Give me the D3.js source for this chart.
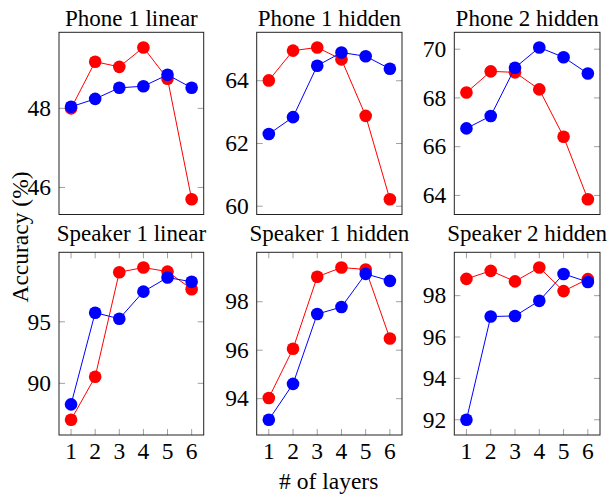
<!DOCTYPE html>
<html><head><meta charset="utf-8">
<script src="https://cdn.jsdelivr.net/npm/d3@7"></script>
<style>body{margin:0;background:#fff}svg{display:block}</style>
</head><body>
<script>
const layers = [1, 2, 3, 4, 5, 6];
const titles = ["Phone 1 linear", "Phone 1 hidden", "Phone 2 hidden", "Speaker 1 linear", "Speaker 1 hidden", "Speaker 2 hidden"];
const redSeries = [
  [48.0, 49.18, 49.05, 49.54, 48.75, 45.70],
  [64.01, 64.96, 65.06, 64.68, 62.88, 60.22],
  [68.22, 69.09, 69.05, 68.35, 66.41, 63.84],
  [87.04, 90.53, 99.03, 99.41, 99.08, 97.65],
  [94.03, 96.06, 99.03, 99.41, 99.33, 96.48],
  [98.81, 99.2, 98.69, 99.36, 98.22, 98.8]
];
const blueSeries = [
  [48.04, 48.24, 48.52, 48.56, 48.85, 48.52],
  [62.30, 62.84, 64.48, 64.90, 64.78, 64.38],
  [66.75, 67.26, 69.24, 70.07, 69.67, 69.0],
  [88.29, 95.74, 95.25, 97.45, 98.6, 98.25],
  [93.13, 94.61, 97.49, 97.78, 99.15, 98.86],
  [92.0, 96.99, 97.02, 97.75, 99.05, 98.66]
];
const yTicks = [[46, 48], [60, 62, 64], [64, 66, 68, 70], [90, 95], [94, 96, 98], [92, 94, 96, 98]];
const xLabel = "# of layers";
const yLabel = "Accuracy (%)";

const W = 613, H = 494;
const FONT = "'Liberation Serif', 'Times New Roman', serif";
const FS = 23.5;
const TFS = 23;
const colX = [[59, 203.7], [256.7, 402], [454.3, 600]];
const rowY = [[32.3, 214.5], [252.3, 435]];
const titleGap = [6, 11];

const svg = d3.select("body").append("svg").attr("width", W).attr("height", H)
  .attr("font-family", FONT);

titles.forEach((t, i) => {
  const r = Math.floor(i / 3), c = i % 3;
  const [x0, x1] = colX[c], [y0, y1] = rowY[r];
  const all = redSeries[i].concat(blueSeries[i]);
  const mn = d3.min(all), mx = d3.max(all), pad = (mx - mn) * 0.1;
  const x = d3.scaleLinear().domain([1 - 0.5, 6 + 0.5]).range([x0, x1]);
  const y = d3.scaleLinear().domain([mn - pad, mx + pad]).range([y1, y0]);
  const g = svg.append("g");

  const tickCol = "#a0a0a0";
  g.selectAll(".yl").data(yTicks[i]).join("line")
    .attr("x1", x0).attr("x2", x0 + 6).attr("y1", d => y(d)).attr("y2", d => y(d))
    .attr("stroke", tickCol).attr("stroke-width", 1);
  g.selectAll(".yr").data(yTicks[i]).join("line")
    .attr("x1", x1 - 6).attr("x2", x1).attr("y1", d => y(d)).attr("y2", d => y(d))
    .attr("stroke", tickCol).attr("stroke-width", 1);
  g.selectAll(".ytl").data(yTicks[i]).join("text")
    .attr("x", x0 - 8).attr("y", d => y(d)).attr("dy", "0.33em")
    .attr("text-anchor", "end").attr("font-size", FS).text(d => d);

  if (r === 1) {
    g.selectAll(".xt").data(layers).join("line")
      .attr("x1", d => x(d)).attr("x2", d => x(d)).attr("y1", y1).attr("y2", y1 - 6)
      .attr("stroke", tickCol);
    g.selectAll(".xt2").data(layers).join("line")
      .attr("x1", d => x(d)).attr("x2", d => x(d)).attr("y1", y0).attr("y2", y0 + 6)
      .attr("stroke", tickCol);
    g.selectAll(".xtl").data(layers).join("text")
      .attr("x", d => x(d)).attr("y", y1 + 23.5).attr("text-anchor", "middle")
      .attr("font-size", FS).text(d => d);
  }

  const line = d3.line().x((d, k) => x(layers[k])).y(d => y(d));
  [[redSeries[i], "#ff0000"], [blueSeries[i], "#0000ff"]].forEach(([s, col]) => {
    g.append("path").attr("d", line(s)).attr("fill", "none").attr("stroke", col).attr("stroke-width", 1);
    g.selectAll(null).data(s).join("circle")
      .attr("cx", (d, k) => x(layers[k])).attr("cy", d => y(d)).attr("r", 6.3).attr("fill", col);
  });

  g.append("rect").attr("x", x0).attr("y", y0).attr("width", x1 - x0).attr("height", y1 - y0)
    .attr("fill", "none").attr("stroke", "#222").attr("stroke-width", 1);

  g.append("text").attr("x", (x0 + x1) / 2).attr("y", y0 - titleGap[r]).attr("text-anchor", "middle")
    .attr("font-size", TFS).text(t);
});

svg.append("text").attr("x", 328.7).attr("y", 489).attr("text-anchor", "middle").attr("font-size", FS).text(xLabel);
svg.append("text").attr("transform", "translate(28,237) rotate(-90)").attr("text-anchor", "middle").attr("font-size", FS).text(yLabel);
</script>
</body></html>
